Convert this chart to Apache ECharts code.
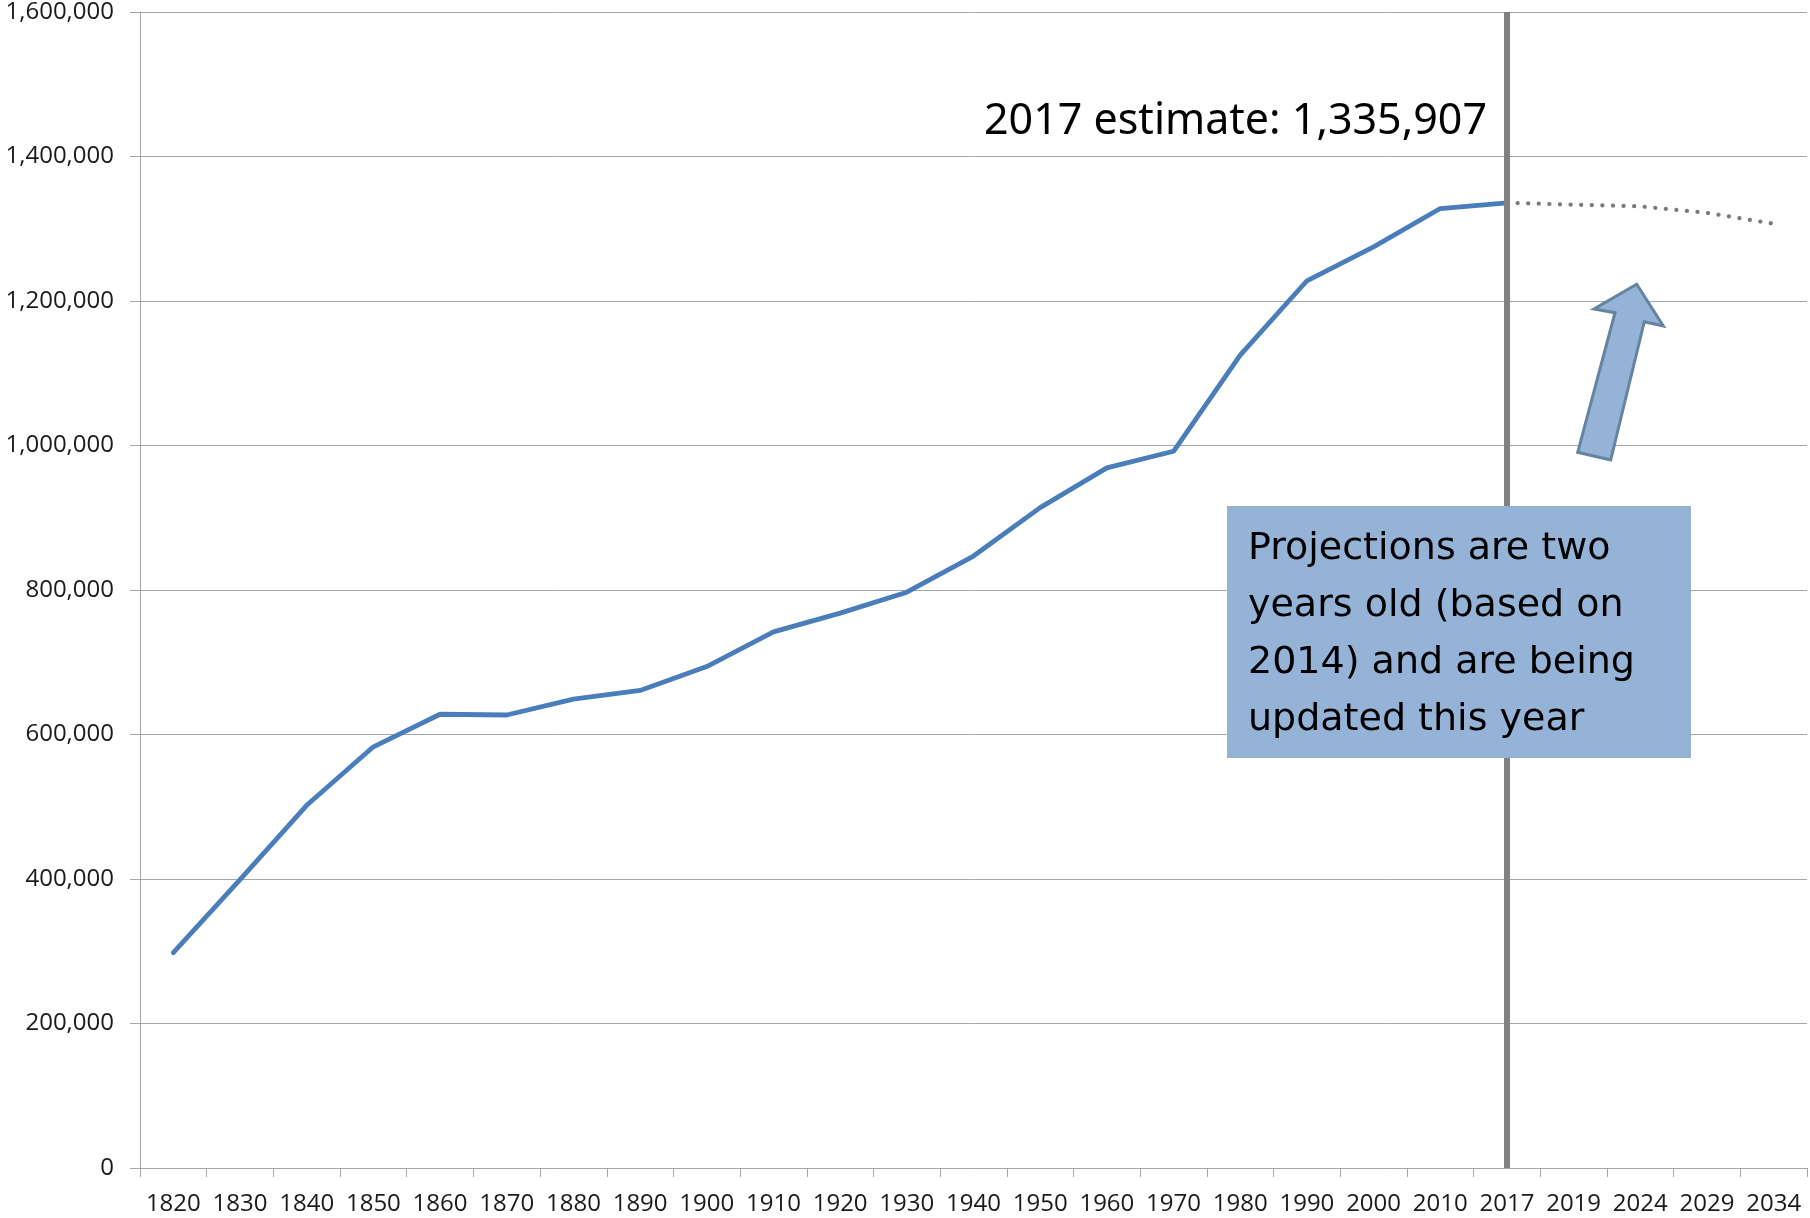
<!DOCTYPE html>
<html>
<head>
<meta charset="utf-8">
<script src="https://cdn.jsdelivr.net/npm/echarts@6/dist/echarts.min.js"></script>
<style>
  html, body { margin: 0; padding: 0; background: #ffffff; }
  #chart { width: 1810px; height: 1218px; }
</style>
</head>
<body>
<div id="chart"></div>
<script>
// ---- Data ----
const years = ['1820','1830','1840','1850','1860','1870','1880','1890','1900','1910',
               '1920','1930','1940','1950','1960','1970','1980','1990','2000','2010',
               '2017','2019','2024','2029','2034'];
const historical = [298000, 399000, 502000, 583000, 628000, 627000, 649000, 661000, 694000, 742000,
                    768000, 797000, 847000, 914000, 969000, 992000, 1125000, 1228000, 1275000, 1328000,
                    1335907, null, null, null, null];
const projected = [null, null, null, null, null, null, null, null, null, null,
                   null, null, null, null, null, null, null, null, null, null,
                   1335907, 1333300, 1331000, 1322000, 1307000];
const yTicks = { min: 0, max: 1600000, interval: 200000 };
const markerYear = '2017';
const estimateLabel = '2017 estimate: 1,335,907';
const noteLines = ['Projections are two', 'years old (based on', '2014) and are being', 'updated this year'];

const gridColor = '#A6A6A6';
const chart = echarts.init(document.getElementById('chart'), null, { renderer: 'canvas' });

chart.setOption({
  animation: false,
  backgroundColor: '#ffffff',
  grid: { left: 140, right: 3, top: 11, bottom: 50, containLabel: false },
  xAxis: {
    type: 'category',
    data: years,
    boundaryGap: true,
    axisLine: { show: true, lineStyle: { color: gridColor, width: 1 } },
    axisTick: { show: true, interval: 0, length: 9, lineStyle: { color: gridColor } },
    axisLabel: { interval: 0, margin: 24, color: '#1a1a1a', fontFamily: 'Open Sans', fontSize: 24 },
    splitLine: { show: false }
  },
  yAxis: {
    type: 'value',
    min: yTicks.min, max: yTicks.max, interval: yTicks.interval,
    axisLine: { show: true, lineStyle: { color: gridColor, width: 1 } },
    axisTick: { show: true, length: 10, lineStyle: { color: gridColor } },
    axisLabel: {
      margin: 26, color: '#1a1a1a', fontFamily: 'Open Sans', fontSize: 24,
      formatter: v => v.toLocaleString('en-US')
    },
    splitLine: { show: true, lineStyle: { color: gridColor, width: 1 } }
  },
  series: [
    {
      name: 'Population',
      type: 'line',
      data: historical,
      showSymbol: false,
      symbol: 'none',
      connectNulls: false,
      lineStyle: { color: '#4A7EBB', width: 4.8, cap: 'round', join: 'round' },
      z: 3,
      markLine: {
        silent: true,
        symbol: 'none',
        label: { show: false },
        lineStyle: { color: '#808080', width: 6, type: 'solid' },
        data: [{ xAxis: markerYear }],
        z: 4
      }
    },
    {
      name: 'Projection',
      type: 'line',
      data: projected,
      showSymbol: false,
      symbol: 'none',
      lineStyle: { color: '#7a7a7a', width: 4.2, type: [0.1, 10.5], cap: 'round' },
      z: 2
    }
  ],
  graphic: [
    {
      type: 'text',
      x: 1487, y: 122,
      style: {
        text: estimateLabel,
        fill: '#000',
        font: '43px "Noto Sans"',
        align: 'right',
        verticalAlign: 'middle'
      },
      z: 10
    },
    {
      type: 'polygon',
      shape: {
        points: [[1636.7, 284.3], [1663.3, 326], [1644.3, 321.7], [1610.7, 460],
                 [1577.7, 452.3], [1615, 312.7], [1594, 309]]
      },
      style: { fill: '#95B3D7', stroke: '#64849F', lineWidth: 3, lineJoin: 'miter' },
      z: 10
    },
    {
      type: 'rect',
      shape: { x: 1227, y: 506, width: 464, height: 252 },
      style: { fill: '#95B3D7' },
      z: 10
    },
    {
      type: 'text',
      x: 1248, y: 521,
      style: {
        text: noteLines.join('\n'),
        fill: '#000',
        font: '38px "DejaVu Sans"',
        lineHeight: 57,
        align: 'left',
        verticalAlign: 'top'
      },
      z: 11
    }
  ]
});
</script>
</body>
</html>
